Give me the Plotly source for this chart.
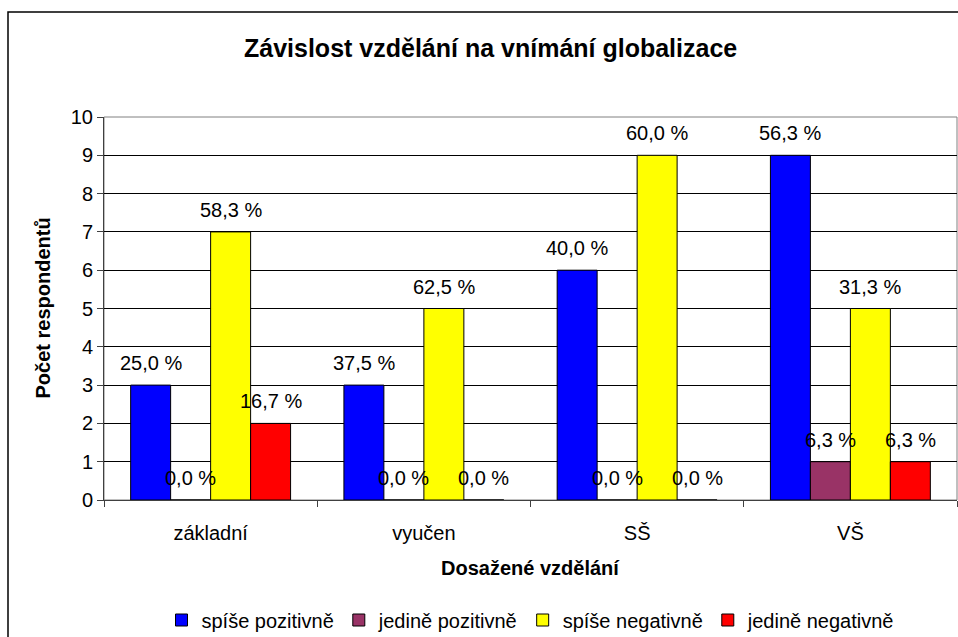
import plotly.graph_objects as go

categories = ["základní", "vyučen", "SŠ", "VŠ"]
series_names = ["spíše pozitivně", "jedině pozitivně", "spíše negativně", "jedině negativně"]
series_colors = ["#0000FF", "#993366", "#FFFF00", "#FF0000"]
spise_pozitivne = [3, 3, 6, 9]
jedine_pozitivne = [0, 0, 0, 1]
spise_negativne = [7, 5, 9, 5]
jedine_negativne = [2, 0, 0, 1]
lbl_spise_pozitivne = ["25,0 %", "37,5 %", "40,0 %", "56,3 %"]
lbl_jedine_pozitivne = ["0,0 %", "0,0 %", "0,0 %", "6,3 %"]
lbl_spise_negativne = ["58,3 %", "62,5 %", "60,0 %", "31,3 %"]
lbl_jedine_negativne = ["16,7 %", "0,0 %", "0,0 %", "6,3 %"]

values = [spise_pozitivne, jedine_pozitivne, spise_negativne, jedine_negativne]
labels = [lbl_spise_pozitivne, lbl_jedine_pozitivne, lbl_spise_negativne, lbl_jedine_negativne]

FONT = "Arial, 'Liberation Sans', sans-serif"
FS = 20
BARGAP = 0.25
n = len(series_names)

fig = go.Figure()
for name, col, vals in zip(series_names, series_colors, values):
    fig.add_trace(go.Bar(
        x=categories, y=vals, name=name,
        marker=dict(color=col, line=dict(color="#000000", width=1)),
    ))

# data labels above each bar
bw = (1 - BARGAP) / n
for s, (vals, lbls) in enumerate(zip(values, labels)):
    for i, (v, t) in enumerate(zip(vals, lbls)):
        fig.add_annotation(
            x=i - (1 - BARGAP) / 2 + bw * (s + 0.5), y=v, xref="x", yref="y",
            text=t, showarrow=False, yshift=22, xanchor="center", yanchor="middle",
            font=dict(family=FONT, size=FS, color="#000000"),
        )

W, H = 958, 637
L, R, T, B = 104, 1, 117, 137
pw, ph = W - L - R, H - T - B

def px_x(p):
    return (p - L) / pw

def px_y(p):
    return (H - B - p) / ph

# outer chart border
fig.add_shape(type="rect", xref="paper", yref="paper",
              x0=px_x(8), x1=px_x(1000), y0=px_y(12), y1=px_y(700),
              line=dict(color="#000000", width=1.5), layer="below")
# plot area border
fig.add_shape(type="rect", xref="paper", yref="paper", x0=0, x1=1, y0=0, y1=1,
              line=dict(color="#808080", width=1), layer="below")

fig.add_annotation(text="<b>Závislost vzdělání na vnímání globalizace</b>",
                   xref="paper", yref="paper", x=px_x(490), y=px_y(48),
                   xanchor="center", yanchor="middle",
                   showarrow=False, font=dict(family=FONT, size=25, color="#000000"))
fig.add_annotation(text="<b>Dosažené vzdělání</b>",
                   xref="paper", yref="paper", x=0.5, y=px_y(568),
                   xanchor="center", yanchor="middle",
                   showarrow=False, font=dict(family=FONT, size=FS, color="#000000"))
fig.add_annotation(text="<b>Počet respondentů</b>", textangle=-90,
                   xref="paper", yref="paper", x=px_x(42), y=0.5,
                   xanchor="center", yanchor="middle",
                   showarrow=False, font=dict(family=FONT, size=FS, color="#000000"))

fig.update_layout(
    width=W, height=H, autosize=False,
    margin=dict(l=L, r=R, t=T, b=B, autoexpand=False),
    paper_bgcolor="#FFFFFF", plot_bgcolor="#FFFFFF",
    barmode="group", bargap=BARGAP, bargroupgap=0,
    font=dict(family=FONT, size=FS, color="#000000"),
    showlegend=True,
    legend=dict(orientation="h", x=0.5, xanchor="center", y=px_y(620), yanchor="middle",
                font=dict(family=FONT, size=FS, color="#000000"), traceorder="normal",
                itemwidth=30, tracegroupgap=0),
    xaxis=dict(
        type="category", showline=True, linecolor="#404040", linewidth=1,
        ticks="outside", ticklen=6, tickcolor="#404040", tickson="boundaries",
        showgrid=False, tickfont=dict(family=FONT, size=FS), automargin=False,
        ticklabelstandoff=15,
    ),
    yaxis=dict(
        range=[0, 10], dtick=1, showline=True, linecolor="#404040", linewidth=1,
        ticks="outside", ticklen=6, tickcolor="#404040",
        showgrid=True, gridcolor="#000000", gridwidth=1, zeroline=False,
        tickfont=dict(family=FONT, size=FS), automargin=False,
    ),
)

fig.write_html("out.html", config={"displayModeBar": False},
               post_script="document.body.style.margin='0';document.body.style.overflow='hidden';")
